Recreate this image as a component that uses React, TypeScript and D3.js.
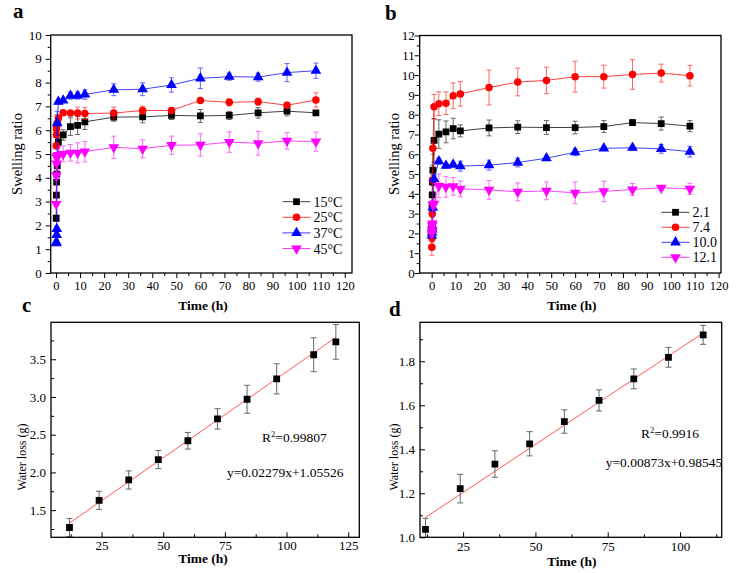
import * as d3 from "d3";
import { useEffect, useRef } from "react";

// swelling kinetics (a: temperature, b: pH), hours
const swellHours = [0.08, 0.17, 0.25, 0.33, 0.5, 1, 3, 6, 9, 12, 24, 36, 48, 60, 72, 84, 96, 108];

const tempLabels = ["15°C", "25°C", "37°C", "45°C"];
const swellT15 = [2.3, 3.27, 3.82, 4.15, 4.5, 5.5, 5.8, 6.15, 6.2, 6.35, 6.55, 6.56, 6.62, 6.6, 6.62, 6.73, 6.8, 6.73];
const swellT25 = [5.35, 5.8, 6.05, 6.2, 6.3, 6.5, 6.73, 6.72, 6.72, 6.7, 6.72, 6.83, 6.83, 7.25, 7.17, 7.2, 7.05, 7.27];
const swellT37 = [1.25, 1.3, 1.6, 1.85, 6.3, 7.2, 7.25, 7.45, 7.45, 7.5, 7.7, 7.72, 7.9, 8.18, 8.25, 8.23, 8.42, 8.5];
const swellT45 = [2.9, 4.1, 4.6, 4.85, 4.9, 4.95, 5.0, 5.05, 5.05, 5.1, 5.28, 5.22, 5.37, 5.38, 5.5, 5.45, 5.55, 5.52];
const errT15 = [0.1, 0.1, 0.1, 0.1, 0.1, 0.15, 0.22, 0.37, 0.38, 0.32, 0.17, 0.25, 0.17, 0.27, 0.17, 0.22, 0.2, 0.05];
const errT25 = [0.1, 0.1, 0.1, 0.45, 0.3, 0.1, 0.05, 0.05, 0.25, 0.25, 0.25, 0.18, 0.12, 0.05, 0.15, 0.15, 0.12, 0.3];
const errT37 = [0.1, 0.1, 0.1, 0.1, 0.5, 0.1, 0.05, 0.15, 0.15, 0.2, 0.25, 0.27, 0.3, 0.43, 0.15, 0.17, 0.38, 0.32];
const errT45 = [0.1, 0.2, 0.2, 0.2, 0.3, 0.3, 0.33, 0.35, 0.42, 0.43, 0.47, 0.38, 0.38, 0.47, 0.43, 0.5, 0.35, 0.4];

const phLabels = ["2.1", "7.4", "10.0", "12.1"];
const swellPH21 = [2.4, 3.35, 3.95, 4.6, 5.2, 6.7, 7.02, 7.13, 7.3, 7.18, 7.33, 7.37, 7.35, 7.35, 7.4, 7.6, 7.55, 7.42];
const swellPH74 = [1.3, 1.75, 3.0, 4.7, 6.3, 8.4, 8.55, 8.58, 8.95, 9.05, 9.37, 9.65, 9.73, 9.92, 9.92, 10.03, 10.1, 9.97];
const swellPH100 = [1.9, 2.05, 2.2, 2.35, 3.3, 4.75, 5.65, 5.42, 5.48, 5.4, 5.45, 5.58, 5.8, 6.1, 6.3, 6.33, 6.27, 6.13];
const swellPH121 = [2.0, 2.2, 2.4, 2.5, 3.45, 3.5, 4.4, 4.35, 4.38, 4.25, 4.2, 4.1, 4.15, 4.05, 4.12, 4.22, 4.3, 4.25];
const errPH21 = [0.1, 0.1, 0.1, 0.15, 0.25, 1.1, 0.72, 0.55, 0.52, 0.3, 0.4, 0.32, 0.35, 0.32, 0.3, 0.15, 0.33, 0.28];
const errPH74 = [0.4, 0.2, 0.2, 0.3, 0.3, 0.62, 0.6, 0.57, 0.65, 0.62, 0.88, 0.7, 0.67, 0.78, 0.58, 0.75, 0.45, 0.52];
const errPH100 = [0.1, 0.1, 0.1, 0.1, 0.2, 0.2, 0.15, 0.12, 0.1, 0.25, 0.25, 0.22, 0.1, 0.17, 0.1, 0.12, 0.22, 0.27];
const errPH121 = [0.15, 0.15, 0.15, 0.15, 0.2, 0.2, 0.6, 0.52, 0.45, 0.4, 0.47, 0.45, 0.45, 0.55, 0.52, 0.3, 0.12, 0.28];

// water loss (c, d)
const lossHoursC = [12, 24, 36, 48, 60, 72, 84, 96, 111, 120];
const lossC = [1.27, 1.63, 1.9, 2.17, 2.42, 2.71, 2.97, 3.24, 3.56, 3.73];
const lossErrC = [0.12, 0.12, 0.12, 0.12, 0.11, 0.135, 0.185, 0.2, 0.225, 0.23];
const fitC = { slope: 0.02279, intercept: 1.05526, r2: "0.99807", eq: "y=0.02279x+1.05526" };

const lossHoursD = [12, 24, 36, 48, 60, 72, 84, 96, 108];
const lossD = [1.036, 1.221, 1.333, 1.425, 1.526, 1.622, 1.72, 1.818, 1.92];
const lossErrD = [0.05, 0.065, 0.06, 0.055, 0.053, 0.048, 0.045, 0.045, 0.043];
const fitD = { slope: 0.00873, intercept: 0.98545, r2: "0.9916", eq: "y=0.00873x+0.98545" };

const seriesColors = ["#000000", "#ff0000", "#0000ff", "#ff00ff"];
const FONT = "Liberation Serif";

type Series = { label: string; values: number[]; errs: number[] };

function markerPath(i: number) {
  const types = [d3.symbolSquare, d3.symbolCircle, d3.symbolTriangle, d3.symbolTriangle];
  const sizes = [46, 44, 50, 50];
  return d3.symbol().type(types[i]).size(sizes[i])();
}

function addText(parent: any, size: number) {
  return parent.append("text").attr("font-family", FONT).attr("font-size", size).attr("fill", "#000");
}

function drawPanel(svg: any, cfg: any) {
  const x = d3.scaleLinear().domain(cfg.xDomain).range([cfg.left, cfg.right]);
  const y = d3.scaleLinear().domain(cfg.yDomain).range([cfg.bottom, cfg.top]);
  const g = svg.append("g");

  const clipId = "clip-" + cfg.id;
  g.append("clipPath").attr("id", clipId).append("rect")
    .attr("x", cfg.left).attr("y", cfg.top)
    .attr("width", cfg.right - cfg.left).attr("height", cfg.bottom - cfg.top);

  const tk = cfg.inward ? -1 : 1;
  // minor ticks, then major ticks with labels
  const xMinor = d3.axisBottom(x).tickValues(cfg.xMinor).tickSize(3 * tk).tickFormat(() => "");
  g.append("g").attr("transform", `translate(0,${cfg.bottom})`).call(xMinor);
  const xMajor = d3.axisBottom(x).tickValues(cfg.xMajor).tickSize(5 * tk).tickPadding(cfg.xPad)
    .tickFormat(d3.format("d"));
  const xa = g.append("g").attr("transform", `translate(0,${cfg.bottom})`).call(xMajor);
  xa.selectAll("text").attr("font-size", cfg.xFont).attr("y", cfg.xLabelY).attr("dy", null);

  const yMinor = d3.axisLeft(y).tickValues(cfg.yMinor).tickSize(3 * tk).tickFormat(() => "");
  g.append("g").attr("transform", `translate(${cfg.left},0)`).call(yMinor);
  const yMajor = d3.axisLeft(y).tickValues(cfg.yMajor).tickSize(5 * tk).tickPadding(cfg.yPad)
    .tickFormat(d3.format(cfg.yFormat));
  const ya = g.append("g").attr("transform", `translate(${cfg.left},0)`).call(yMajor);
  ya.selectAll("text").attr("font-size", 13).attr("x", -cfg.yLabelGap);

  g.selectAll(".domain").remove();
  g.selectAll("g").attr("font-family", FONT).attr("font-size", null);
  g.selectAll(".tick line").attr("stroke", "#000").attr("stroke-width", 1);
  g.selectAll(".tick text").attr("fill", "#000").attr("font-family", FONT);

  const plot = g.append("g").attr("clip-path", `url(#${clipId})`);

  if (cfg.fit) {
    const [x0, x1] = [cfg.hours[0], cfg.hours[cfg.hours.length - 1]];
    plot.append("line")
      .attr("x1", x(x0)).attr("y1", y(cfg.fit.slope * x0 + cfg.fit.intercept))
      .attr("x2", x(x1)).attr("y2", y(cfg.fit.slope * x1 + cfg.fit.intercept))
      .attr("stroke", "#ff5a5a").attr("stroke-width", 1);
  }

  cfg.series.forEach((s: Series, i: number) => {
    const color = cfg.fit ? "#000" : seriesColors[i];
    const errColor = cfg.fit ? "#666" : seriesColors[i];
    const pts = cfg.hours.map((h: number, k: number) => ({ h, v: s.values[k], e: s.errs[k] }));
    if (!cfg.fit) {
      plot.append("path").datum(pts)
        .attr("d", d3.line<any>().x((d) => x(d.h)).y((d) => y(d.v)))
        .attr("fill", "none").attr("stroke", color).attr("stroke-width", 1).attr("opacity", 0.75);
    }
    const cap = cfg.cap;
    const eb = plot.append("g").attr("stroke", errColor).attr("stroke-width", 1)
      .attr("opacity", cfg.fit ? 1 : 0.6);
    pts.forEach((d: any) => {
      eb.append("line").attr("x1", x(d.h)).attr("x2", x(d.h))
        .attr("y1", y(d.v - d.e)).attr("y2", y(d.v + d.e));
      [d.v - d.e, d.v + d.e].forEach((v) => {
        eb.append("line").attr("x1", x(d.h) - cap).attr("x2", x(d.h) + cap)
          .attr("y1", y(v)).attr("y2", y(v));
      });
    });
    const mi = cfg.fit ? 0 : i;
    plot.append("g").selectAll("path").data(pts).join("path")
      .attr("d", markerPath(mi))
      .attr("transform", (d: any) =>
        `translate(${x(d.h)},${y(d.v)})` + (mi === 3 ? " rotate(180)" : ""))
      .attr("fill", color);
  });

  // frame
  g.append("rect").attr("x", cfg.left).attr("y", cfg.top)
    .attr("width", cfg.right - cfg.left).attr("height", cfg.bottom - cfg.top)
    .attr("fill", "none").attr("stroke", "#000").attr("stroke-width", 1.3);

  // legend
  if (cfg.legend) {
    const L = cfg.legend;
    cfg.series.forEach((s: Series, i: number) => {
      const yy = L.y + i * L.dy;
      g.append("line").attr("x1", L.x).attr("x2", L.x + 28).attr("y1", yy).attr("y2", yy)
        .attr("stroke", seriesColors[i]).attr("stroke-width", 1).attr("opacity", 0.75);
      g.append("path").attr("d", markerPath(i))
        .attr("transform", `translate(${L.x + 14},${yy})` + (i === 3 ? " rotate(180)" : ""))
        .attr("fill", seriesColors[i]);
      addText(g, 14).attr("x", L.x + 31).attr("y", yy + 5).text(s.label);
    });
  }

  // fit annotation
  if (cfg.fit) {
    const t = addText(g, 13.5).attr("x", cfg.fitText.rx).attr("y", cfg.fitText.ry);
    t.append("tspan").text("R");
    t.append("tspan").attr("dy", -5).attr("font-size", 8.5).text("2");
    t.append("tspan").attr("dy", 5).text("=" + cfg.fit.r2);
    addText(g, 13.5).attr("x", cfg.fitText.ex).attr("y", cfg.fitText.ey).text(cfg.fit.eq);
  }

  // titles
  addText(g, 13.5).attr("x", cfg.xTitle[0]).attr("y", cfg.xTitle[1]).attr("text-anchor", "middle")
    .attr("font-weight", "bold").text("Time (h)");
  addText(g, cfg.yTitleSize)
    .attr("transform", `translate(${cfg.yTitle[0]},${cfg.yTitle[1]}) rotate(-90)`)
    .attr("text-anchor", "middle").attr("dy", "0.35em").text(cfg.yLabel);
  addText(g, 21).attr("x", cfg.tag[0]).attr("y", cfg.tag[1])
    .attr("font-weight", "bold").text(cfg.id);
}

export default function App() {
  const ref = useRef<SVGSVGElement>(null);

  useEffect(() => {
    const svg = d3.select(ref.current);
    svg.selectAll("*").remove();

    const majors = (a: number, b: number, s: number) => d3.range(a, b + s / 2, s);

    drawPanel(svg, {
      id: "a", left: 50.7, right: 352, top: 35, bottom: 273,
      xDomain: [-2.2, 123], yDomain: [0, 10],
      xMajor: majors(0, 120, 10), xMinor: majors(5, 115, 10), xPad: 4, xFont: 12.5, xLabelY: 17,
      yMajor: majors(0, 10, 1), yMinor: majors(0.5, 9.5, 1), yPad: 5, yLabelGap: 9, yFormat: "d",
      hours: swellHours, cap: 2.5,
      series: [
        { label: tempLabels[0], values: swellT15, errs: errT15 },
        { label: tempLabels[1], values: swellT25, errs: errT25 },
        { label: tempLabels[2], values: swellT37, errs: errT37 },
        { label: tempLabels[3], values: swellT45, errs: errT45 },
      ],
      legend: { x: 282.5, y: 201.7, dy: 15.6 },
      xTitle: [203, 310], yTitle: [17, 154], yTitleSize: 14.5, yLabel: "Swelling ratio",
      tag: [13, 17.5],
    });

    drawPanel(svg, {
      id: "b", left: 419.7, right: 721, top: 35.5, bottom: 273,
      xDomain: [-5, 121], yDomain: [0, 12],
      xMajor: majors(0, 120, 10), xMinor: majors(5, 115, 10), xPad: 4, xFont: 12.5, xLabelY: 17,
      yMajor: majors(0, 12, 1), yMinor: majors(0.5, 11.5, 1), yPad: 2, yLabelGap: 5, yFormat: "d",
      hours: swellHours, cap: 2.5,
      series: [
        { label: phLabels[0], values: swellPH21, errs: errPH21 },
        { label: phLabels[1], values: swellPH74, errs: errPH74 },
        { label: phLabels[2], values: swellPH100, errs: errPH100 },
        { label: phLabels[3], values: swellPH121, errs: errPH121 },
      ],
      legend: { x: 661.5, y: 212.3, dy: 15 },
      xTitle: [571.7, 310], yTitle: [394, 154], yTitleSize: 14.5, yLabel: "Swelling ratio",
      tag: [385, 20],
    });

    drawPanel(svg, {
      id: "c", left: 51, right: 359.3, top: 322.3, bottom: 537.3, inward: true,
      xDomain: [4.5, 129.5], yDomain: [1.14, 3.99],
      xMajor: majors(25, 125, 25), xMinor: majors(12.5, 112.5, 25), xPad: 3, xFont: 13, xLabelY: 12.5,
      yMajor: majors(1.5, 3.5, 0.5), yMinor: majors(1.25, 3.75, 0.5), yPad: 3, yLabelGap: 5, yFormat: ".1f",
      hours: lossHoursC, cap: 3,
      series: [{ label: "c", values: lossC, errs: lossErrC }],
      fit: fitC, fitText: { rx: 262, ry: 442, ex: 227, ey: 477 },
      xTitle: [203, 563], yTitle: [22, 457], yTitleSize: 12, yLabel: "Water loss (g)",
      tag: [22, 312],
    });

    drawPanel(svg, {
      id: "d", left: 420, right: 721.7, top: 322.3, bottom: 537.3, inward: true,
      xDomain: [10.1, 114.4], yDomain: [1.0, 1.977],
      xMajor: majors(25, 100, 25), xMinor: majors(12.5, 112.5, 25), xPad: 3, xFont: 13, xLabelY: 14,
      yMajor: majors(1.0, 1.8, 0.2), yMinor: majors(1.1, 1.9, 0.2), yPad: 3, yLabelGap: 5, yFormat: ".1f",
      hours: lossHoursD, cap: 3,
      series: [{ label: "d", values: lossD, errs: lossErrD }],
      fit: fitD, fitText: { rx: 641, ry: 438, ex: 605.7, ey: 467 },
      xTitle: [571.7, 566], yTitle: [394, 457], yTitleSize: 12, yLabel: "Water loss (g)",
      tag: [389, 316],
    });
  }, []);

  return (
    <svg ref={ref} width={738} height={573}
      style={{ position: "absolute", left: 0, top: 0, background: "#fff" }} />
  );
}
